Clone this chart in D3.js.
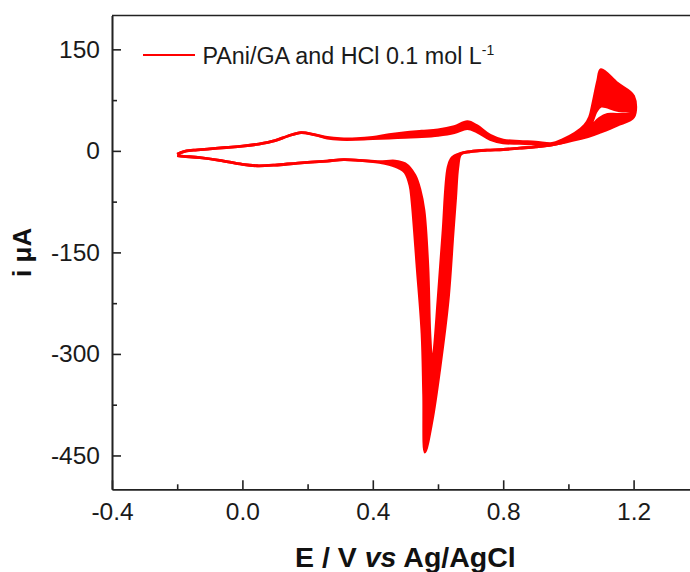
<!DOCTYPE html>
<html><head><meta charset="utf-8">
<script src="https://cdn.jsdelivr.net/npm/d3@7/dist/d3.min.js"></script>
<style>html,body{margin:0;padding:0;background:#fff;overflow:hidden;} svg{display:block;}</style>
</head><body><svg id="chart" width="690" height="572"></svg>
<script>
// ---- data ----
const xTicks = [-0.4, 0.0, 0.4, 0.8, 1.2];
const xTickLabels = ["-0.4", "0.0", "0.4", "0.8", "1.2"];
const xMinorTicks = [-0.2, 0.2, 0.6, 1.0];
const yTicks = [150, 0, -150, -300, -450];
const yTickLabels = ["150", "0", "-150", "-300", "-450"];
const yMinorTicks = [75, -75, -225, -375];
const legendLabel = "PAni/GA and HCl 0.1 mol L";
const legendSup = "-1";

// inner cycle (potential E / V, current i / µA), forward then reverse scan
const innerCycleE = [-0.200,-0.180,-0.150,-0.100,-0.050,0.000,0.050,0.100,0.140,0.180,0.220,0.260,0.300,0.350,0.400,0.450,0.500,0.550,0.600,0.650,0.690,0.720,0.760,0.800,0.850,0.900,0.950,0.980,1.020,1.050,1.070,1.085,1.100,1.150,1.200,
  1.200,1.150,1.120,1.095,1.070,1.040,1.000,0.950,0.900,0.850,0.800,0.750,0.700,0.667,0.643,0.631,0.615,0.600,0.588,0.582,0.575,0.569,0.557,0.545,0.529,0.499,0.468,0.420,0.360,0.310,0.260,0.170,0.100,0.045,0.000,-0.070,-0.130,-0.180,-0.200];
const innerCycleI = [-5,-1,1,3,5,7,10,15,22,27,24,19,17,17,18,19,20,21,23,27,33,28,17,12,11,10,10,13,20,28,40,58,66,60,58,
  56,54,54,48,36,24,15,9,6,4,2,1,-1,-4,-10,-24,-122,-221,-295,-314,-270,-172,-88,-58,-36,-19,-15,-16,-14,-13,-15,-18,-21,-22,-20,-14,-10,-8,-7];

// outer cycle
const outerCycleE = [-0.200,-0.180,-0.150,-0.100,-0.050,0.000,0.050,0.100,0.140,0.180,0.220,0.260,0.300,0.350,0.400,0.450,0.500,0.550,0.600,0.650,0.690,0.720,0.760,0.800,0.850,0.900,0.950,0.980,1.020,1.050,1.065,1.075,1.090,1.100,1.150,1.200,
  1.200,1.150,1.100,1.060,1.000,0.950,0.900,0.850,0.800,0.750,0.700,0.670,0.661,0.654,0.646,0.631,0.606,0.582,0.560,0.556,0.551,0.536,0.520,0.514,0.499,0.483,0.450,0.420,0.360,0.310,0.260,0.170,0.100,0.045,0.000,-0.070,-0.130,-0.180,-0.200];
const outerCycleI = [-5,-1,1,3,5,7,10,15,22,27,24,20,18,18,20,24,27,29,31,36,43,37,23,16,14,13,11,16,26,38,50,70,104,120,100,81,
  50,38,28,21,14,9,6,4,2,1,-1,-5,-24,-70,-122,-221,-320,-398,-445,-360,-270,-172,-73,-51,-32,-26,-20,-17,-14,-13,-15,-18,-21,-22,-20,-14,-10,-8,-7];

// ---- chart ----
const svg = d3.select("#chart");
const L = 112, R = 698.8, T = 15.5, B = 489.3;
const x = d3.scaleLinear().domain([-0.4, 1.4]).range([L, R]);
const y = d3.scaleLinear().domain([-500, 200]).range([B, T]);
const font = "'Liberation Sans', Arial, Helvetica, sans-serif";
const red = "#ff0000";
const axisColor = "#222";

// curve
const inner = innerCycleE.map((e, k) => [e, innerCycleI[k]]);
const outer = outerCycleE.map((e, k) => [e, outerCycleI[k]]);
const line = d3.line().x(d => x(d[0])).y(d => y(d[1])).curve(d3.curveCatmullRom.alpha(0.5));
const g = svg.append("g");
g.append("path").attr("d", line(inner) + line(outer))
  .attr("fill", red).attr("fill-rule", "evenodd").attr("stroke", "none");
[inner, outer].forEach(c => {
  g.append("path").attr("d", line(c)).attr("fill", "none")
    .attr("stroke", red).attr("stroke-width", 2.8).attr("stroke-linejoin", "round");
});

// axes
function styleAxis(sel) {
  sel.selectAll("path,line").attr("stroke", axisColor).attr("stroke-width", 1.6);
  sel.selectAll("text").attr("fill", "#1a1a1a").style("font-family", font).style("font-size", "24.5px");
}
const xAxis = svg.append("g").attr("transform", `translate(0,${B})`)
  .call(d3.axisBottom(x).tickValues(xTicks).tickFormat((d, k) => xTickLabels[k])
    .tickSizeInner(-9).tickSizeOuter(0).tickPadding(13.5));
styleAxis(xAxis);
const xMinor = svg.append("g").attr("transform", `translate(0,${B})`)
  .call(d3.axisBottom(x).tickValues(xMinorTicks).tickFormat("").tickSizeInner(-5).tickSizeOuter(0));
styleAxis(xMinor);
const yAxis = svg.append("g").attr("transform", `translate(${L},0)`)
  .call(d3.axisLeft(y).tickValues(yTicks).tickFormat((d, k) => yTickLabels[k])
    .tickSizeInner(-9).tickSizeOuter(0).tickPadding(12));
styleAxis(yAxis);
const yMinor = svg.append("g").attr("transform", `translate(${L},0)`)
  .call(d3.axisLeft(y).tickValues(yMinorTicks).tickFormat("").tickSizeInner(-5).tickSizeOuter(0));
styleAxis(yMinor);
// mask right edge (plot continues past the picture edge)
svg.append("rect").attr("x", 684).attr("y", T + 1).attr("width", 10).attr("height", B - T - 2).attr("fill", "#fff");
// top frame
svg.append("line").attr("x1", L).attr("x2", R).attr("y1", T).attr("y2", T)
  .attr("stroke", axisColor).attr("stroke-width", 1.6);

// legend
svg.append("line").attr("x1", 143).attr("x2", 195).attr("y1", 55).attr("y2", 55)
  .attr("stroke", red).attr("stroke-width", 2);
const lt = svg.append("text").attr("x", 202.5).attr("y", 63.5)
  .style("font-family", font).style("font-size", "23.3px").attr("fill", "#1a1a1a");
lt.append("tspan").text(legendLabel);
lt.append("tspan").attr("dy", -9).style("font-size", "14px").text(legendSup);

// axis titles
const xt = svg.append("text").attr("x", (L + R) / 2).attr("y", 567).attr("text-anchor", "middle")
  .style("font-family", font).style("font-size", "28.5px").style("font-weight", "bold").attr("fill", "#111");
xt.append("tspan").text("E / V ");
xt.append("tspan").style("font-style", "italic").text("vs");
xt.append("tspan").text(" Ag/AgCl");

svg.append("text").attr("transform", `translate(31,${(T + B) / 2}) rotate(-90)`).attr("text-anchor", "middle")
  .style("font-family", font).style("font-size", "26px").style("font-weight", "bold").attr("fill", "#111")
  .text("i \u03BCA");
</script></body></html>
